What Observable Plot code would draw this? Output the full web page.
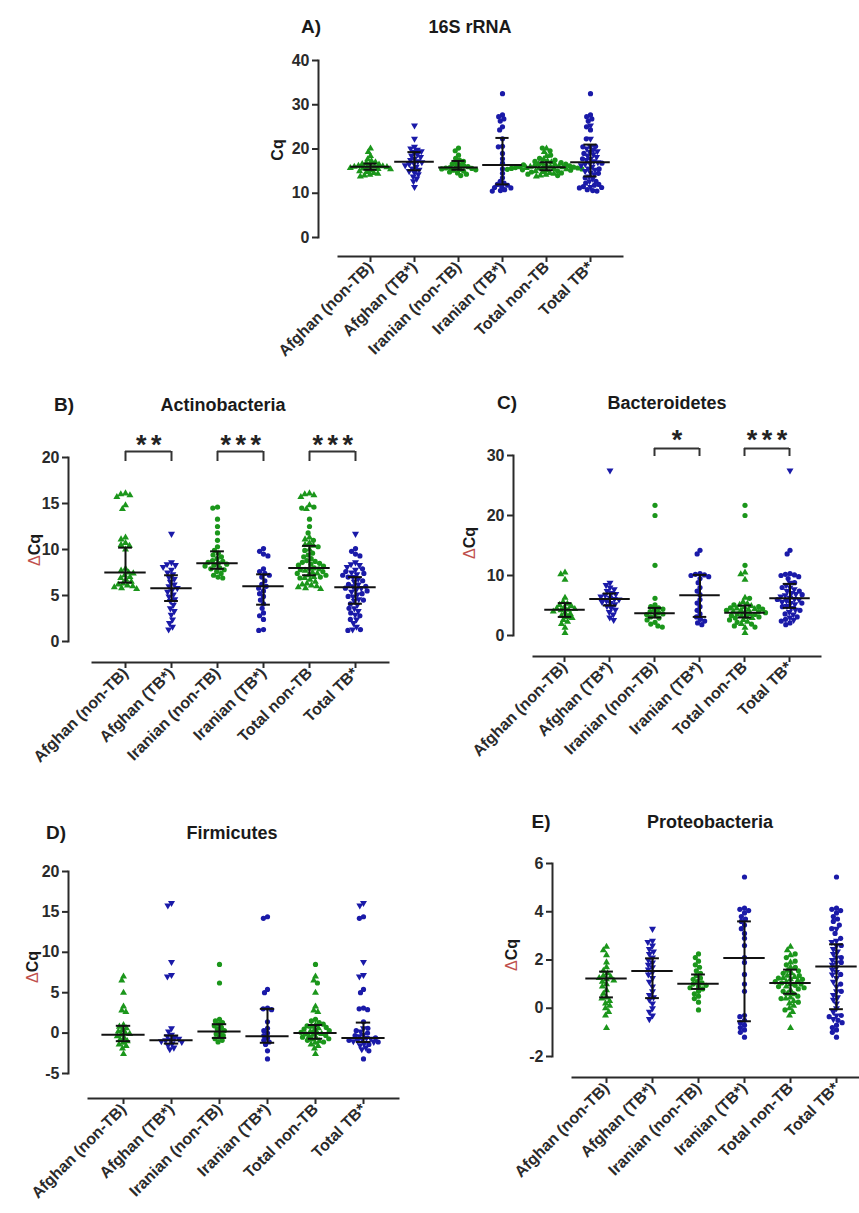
<!DOCTYPE html>
<html><head><meta charset="utf-8">
<script src="https://cdn.jsdelivr.net/npm/d3@7"></script>
<script src="https://cdn.jsdelivr.net/npm/@observablehq/plot@0.6"></script>
<style>
body{margin:0;background:#fff;}
#page{position:relative;width:859px;height:1213px;overflow:hidden;background:#fff;font-family:Arial,'Liberation Sans',sans-serif;}
.ttl{position:absolute;font-weight:bold;color:#1a1a1a;white-space:nowrap;transform:translate(-50%,-50%);}
.lbl{position:absolute;font-weight:bold;color:#1a1a1a;white-space:nowrap;transform:translate(-50%,-50%) rotate(-90deg);}
.axes line, .axes path {stroke-width:2px;}
</style></head><body><div id="page"></div><script>
// ---------- categories ----------
const groups = ["Afghan (non-TB)", "Afghan (TB*)", "Iranian (non-TB)", "Iranian (TB*)", "Total non-TB", "Total TB*"];

// ---------- A) 16S rRNA (Cq) ----------
const rrnaAfghanNonTB = [20.1, 19.3, 18.4, 17.7, 17.3, 17.0, 16.8, 16.6, 16.5, 16.3, 16.2, 16.1, 16.0, 16.0, 15.9, 15.8, 15.7, 15.6, 15.5, 15.4, 15.2, 15.0, 14.8, 14.6, 14.4, 14.2, 14.0, 13.8];
const rrnaAfghanTB = [25.3, 22.3, 20.5, 20.1, 19.8, 19.5, 19.3, 18.8, 18.5, 18.2, 17.8, 17.5, 17.2, 17.0, 16.8, 16.6, 16.3, 16.0, 15.6, 15.3, 15.0, 14.7, 14.3, 13.8, 13.3, 12.7, 11.4];
const rrnaIranianNonTB = [20.2, 19.6, 18.6, 17.9, 17.5, 17.2, 16.9, 16.6, 16.4, 16.2, 16.0, 15.9, 15.8, 15.7, 15.6, 15.5, 15.4, 15.3, 15.2, 15.0, 14.8, 14.6, 14.3, 14.0];
const rrnaIranianTB = [32.5, 27.7, 27.3, 26.8, 26.3, 25.0, 24.3, 22.3, 20.6, 20.5, 19.0, 17.8, 16.8, 15.5, 14.5, 13.5, 12.7, 12.3, 12.0, 11.8, 11.5, 11.3, 11.2, 10.8, 10.6, 10.5];
const rrnaMedian = [16.0, 17.1, 15.8, 16.4, 15.9, 17.0];
const rrnaQ1 = [15.3, 15.2, 15.3, 12.0, 15.2, 13.8];
const rrnaQ3 = [16.7, 19.3, 17.3, 22.5, 17.0, 21.0];
const rrnaTicks = [0, 10, 20, 30, 40];

// ---------- B) Actinobacteria (ΔCq) ----------
const actAfghanNonTB = [16.1, 16.0, 15.9, 15.7, 14.8, 14.4, 11.3, 11.1, 10.7, 10.5, 10.4, 10.0, 7.9, 7.7, 7.5, 7.4, 7.2, 7.0, 6.9, 6.7, 6.5, 6.3, 6.2, 6.1, 6.0, 5.9, 5.8, 5.7];
const actAfghanTB = [11.7, 8.6, 8.4, 8.3, 8.1, 7.8, 7.5, 7.3, 7.0, 6.8, 6.5, 6.2, 6.0, 5.8, 5.6, 5.4, 5.1, 4.9, 4.6, 4.4, 4.0, 3.6, 3.3, 2.9, 2.4, 2.0, 1.6, 1.3];
const actIranianNonTB = [14.6, 14.5, 13.3, 12.5, 11.8, 11.0, 10.3, 9.9, 9.6, 9.4, 9.2, 9.0, 8.8, 8.7, 8.6, 8.5, 8.4, 8.3, 8.2, 8.0, 7.9, 7.8, 7.6, 7.4, 7.2, 7.0, 6.9];
const actIranianTB = [10.1, 9.8, 9.5, 9.3, 7.9, 7.6, 7.4, 7.2, 7.0, 6.6, 6.2, 6.0, 5.8, 5.5, 5.2, 4.9, 4.5, 4.1, 3.6, 3.1, 2.8, 2.4, 1.3, 1.2];
const actMedian = [7.5, 5.8, 8.5, 6.0, 8.0, 5.9];
const actQ1 = [6.4, 4.4, 7.9, 4.0, 7.2, 4.1];
const actQ3 = [10.2, 7.2, 9.8, 7.3, 10.4, 7.0];
const actTicks = [0, 5, 10, 15, 20];
const actBracketFrom = [0, 2, 4];
const actBracketTo = [1, 3, 5];
const actStars = ["**", "***", "***"];

// ---------- C) Bacteroidetes (ΔCq) ----------
const bacAfghanNonTB = [10.5, 10.2, 9.3, 6.3, 5.6, 5.3, 5.1, 4.9, 4.7, 4.5, 4.4, 4.3, 4.2, 4.0, 3.8, 3.6, 3.3, 3.1, 2.9, 2.6, 2.3, 1.9, 1.3, 0.4];
const bacAfghanTB = [27.5, 8.8, 8.4, 8.0, 7.7, 7.4, 7.1, 6.9, 6.7, 6.5, 6.3, 6.1, 6.0, 5.8, 5.6, 5.4, 5.2, 4.9, 4.6, 4.3, 3.9, 3.5, 3.0, 2.6];
const bacIranianNonTB = [21.7, 20.0, 11.7, 6.2, 5.1, 4.8, 4.6, 4.4, 4.2, 4.0, 3.8, 3.6, 3.5, 3.3, 3.1, 2.9, 2.6, 2.2, 1.9, 1.6, 1.4];
const bacIranianTB = [14.2, 13.6, 10.3, 10.2, 10.1, 10.0, 9.8, 9.5, 8.8, 8.0, 7.4, 6.8, 6.0, 5.4, 4.8, 4.2, 3.6, 3.1, 2.7, 2.4, 2.1, 1.8];
const bacMedian = [4.3, 6.1, 3.7, 6.7, 3.8, 6.2];
const bacQ1 = [3.1, 5.0, 3.0, 3.1, 3.0, 4.6];
const bacQ3 = [5.4, 7.0, 4.6, 10.1, 5.0, 8.6];
const bacTicks = [0, 10, 20, 30];
const bacBracketFrom = [2, 4];
const bacBracketTo = [3, 5];
const bacStars = ["*", "***"];

// ---------- D) Firmicutes (ΔCq) ----------
const firAfghanNonTB = [7.0, 6.5, 5.0, 3.3, 2.8, 2.6, 1.0, 0.8, 0.6, 0.4, 0.2, 0.0, -0.1, -0.2, -0.4, -0.6, -0.8, -1.0, -1.2, -1.4, -1.6, -1.9, -2.6];
const firAfghanTB = [16.1, 15.8, 8.8, 7.2, 7.0, 0.6, 0.2, -0.2, -0.4, -0.6, -0.7, -0.8, -0.9, -1.0, -1.1, -1.3, -1.5, -1.8, -2.0];
const firIranianNonTB = [8.5, 6.2, 1.7, 1.5, 1.3, 1.1, 0.9, 0.7, 0.5, 0.3, 0.1, -0.1, -0.3, -0.5, -0.7, -0.9, -1.1];
const firIranianTB = [14.4, 14.2, 5.4, 5.0, 3.1, 3.0, 2.9, 1.4, 0.6, 0.3, 0.0, -0.3, -0.6, -0.9, -1.1, -1.4, -2.2, -3.2];
const firMedian = [-0.2, -0.9, 0.2, -0.4, 0.0, -0.6];
const firQ1 = [-1.0, -1.3, -0.6, -1.2, -0.7, -1.1];
const firQ3 = [0.9, -0.3, 1.1, 3.0, 1.0, 1.3];
const firTicks = [-5, 0, 5, 10, 15, 20];

// ---------- E) Proteobacteria (ΔCq) ----------
const proAfghanNonTB = [2.55, 2.4, 2.2, 1.9, 1.7, 1.55, 1.45, 1.35, 1.3, 1.25, 1.2, 1.15, 1.1, 1.0, 0.9, 0.75, 0.6, 0.45, 0.4, 0.3, 0.2, 0.1, 0.0, -0.15, -0.3, -0.82];
const proAfghanTB = [3.29, 2.8, 2.75, 2.6, 2.45, 2.35, 2.25, 2.1, 2.0, 1.9, 1.8, 1.7, 1.6, 1.5, 1.4, 1.25, 1.1, 0.9, 0.7, 0.55, 0.45, 0.35, 0.2, 0.0, -0.15, -0.3, -0.45];
const proIranianNonTB = [2.25, 2.1, 1.95, 1.8, 1.7, 1.55, 1.45, 1.35, 1.25, 1.2, 1.1, 1.05, 1.0, 0.95, 0.9, 0.85, 0.8, 0.7, 0.6, 0.5, 0.4, 0.25, -0.07];
const proIranianTB = [5.44, 4.15, 4.1, 4.05, 3.95, 3.8, 3.7, 3.6, 3.45, 3.3, 3.1, 2.9, 2.6, 2.1, 1.9, 1.4, 1.0, 0.7, -0.3, -0.35, -0.5, -0.6, -0.7, -0.8, -0.9, -1.0, -1.2];
const proMedian = [1.23, 1.54, 1.02, 2.08, 1.05, 1.73];
const proQ1 = [0.45, 0.42, 0.8, -0.54, 0.6, -0.04];
const proQ3 = [1.52, 2.07, 1.4, 3.6, 1.6, 2.65];
const proTicks = [-2, 0, 2, 4, 6];

// ---------- styling ----------
const GREEN = "#1b961b", BLUE = "#1a1aa8";
const triUp = d3.symbolTriangle;
const triDown = {draw(ctx, size) {
  const y = -Math.sqrt(size / (Math.sqrt(3) * 3));
  ctx.moveTo(0, -y * 2);
  ctx.lineTo(-Math.sqrt(3) * y, y);
  ctx.lineTo(Math.sqrt(3) * y, y);
  ctx.closePath();
}};
const circ = d3.symbolCircle;
const FONT = "Arial, 'Liberation Sans', sans-serif";
const page = document.getElementById("page");

function buildPoints(aN, aT, iN, iT) {
  const rows = [];
  const add = (g, arr, color, shape) => arr.forEach(v => rows.push({group: groups[g], value: v, color, shape}));
  add(0, aN, GREEN, triUp);
  add(1, aT, BLUE, triDown);
  add(2, iN, GREEN, circ);
  add(3, iT, BLUE, circ);
  add(4, aN, GREEN, triUp); add(4, iN, GREEN, circ);
  add(5, aT, BLUE, triDown); add(5, iT, BLUE, circ);
  return rows;
}
function buildStats(med, q1, q3) {
  return groups.map((g, i) => ({group: g, median: med[i], q1: q1[i], q3: q3[i]}));
}
function place(el, left, top) {
  el.style.position = "absolute"; el.style.left = left + "px"; el.style.top = top + "px";
  page.appendChild(el);
  return el;
}
function addText(cls, html, x, y, size) {
  const d = document.createElement("div");
  d.className = cls; d.innerHTML = html; d.style.left = x + "px"; d.style.top = y + "px"; d.style.fontSize = size + "px";
  page.appendChild(d);
}

function panel(cfg, points, stats, brackets) {
  const {domain, yTop, yBot, yAxisX, ticks, xAxisY, xLine, firstTick, step} = cfg;
  const baseStyle = {fontFamily: FONT, fontSize: "16px", fontWeight: "bold", color: "#2a2a2a", overflow: "visible", background: "transparent"};
  const valAt = px => domain[0] + (yBot - px) / (yBot - yTop) * (domain[1] - domain[0]);

  // data layer (beeswarm + median & IQR)
  const M = 14;
  const dLeft = firstTick - step / 2 - M, dTop = yTop - M;
  const dataPlot = Plot.plot({
    width: 6 * step + 2 * M, height: yBot - yTop + 2 * M,
    marginLeft: M, marginRight: M, marginTop: M, marginBottom: M,
    fx: {domain: groups, padding: 0, axis: null, label: null},
    x: {domain: [-1, 1], axis: null},
    y: {domain, axis: null},
    color: {type: "identity"},
    symbol: {type: "identity"},
    style: baseStyle,
    marks: [
      Plot.dot(points, Plot.dodgeX({anchor: "middle", padding: cfg.swarmPad}, {fx: "group", y: "value", r: 2.6, fill: d => d.color, symbol: d => d.shape})),
      Plot.ruleX(stats, {fx: "group", x: 0, y1: "q1", y2: "q3", stroke: "#111", strokeWidth: 2}),
      Plot.ruleY(stats, {fx: "group", y: "q1", x1: -0.3, x2: 0.3, stroke: "#111", strokeWidth: 2}),
      Plot.ruleY(stats, {fx: "group", y: "q3", x1: -0.3, x2: 0.3, stroke: "#111", strokeWidth: 2}),
      Plot.ruleY(stats, {fx: "group", y: "median", x1: -0.9, x2: 0.9, stroke: "#111", strokeWidth: 2})
    ]
  });
  place(dataPlot, dLeft, dTop);

  // y axis layer
  const YL = 50, YM = 10;
  const yPlot = Plot.plot({
    width: YL + 1, height: yBot - yTop + 2 * YM,
    marginLeft: YL, marginRight: 0, marginTop: YM, marginBottom: YM,
    y: {domain, ticks, tickSize: 6, tickPadding: 3, line: true, label: null, tickFormat: d => String(d)},
    style: baseStyle,
    marks: [Plot.tickY(ticks, {y: d => d, stroke: "none"})]
  });
  yPlot.classList.add("axes");
  place(yPlot, yAxisX - YL, yTop - YM);

  // x axis + brackets layer
  const XL = 140, XR = 12, XB = 150;
  const xLeft = xLine[0] - XL, xTop = yTop - 45;
  const xPlot = Plot.plot({
    width: XL + (xLine[1] - xLine[0]) + XR, height: xAxisY - xTop + XB,
    marginLeft: XL, marginRight: XR, marginTop: 5, marginBottom: XB,
    x: {type: "point", domain: groups, padding: 0, range: [firstTick - xLeft, firstTick + 5 * step - xLeft],
        tickRotate: -45, tickSize: 6, tickPadding: 2, line: true, label: null},
    y: {domain, range: [yBot - xTop, yTop - xTop], axis: null},
    style: baseStyle,
    marks: [
      Plot.tickX(groups, {x: d => d, stroke: "none"}),
      ...(brackets ? [
        Plot.ruleY(brackets, {x1: "a", x2: "b", y: valAt(cfg.brTop), stroke: "#333", strokeWidth: 1.8}),
        Plot.ruleX(brackets, {x: "a", y1: valAt(cfg.brTop), y2: valAt(cfg.brBot), stroke: "#333", strokeWidth: 1.8}),
        Plot.ruleX(brackets, {x: "b", y1: valAt(cfg.brTop), y2: valAt(cfg.brBot), stroke: "#333", strokeWidth: 1.8}),
        Plot.text(brackets, {x: "a", dx: step / 2, y: valAt(cfg.starY), dy: 8, text: d => d.stars.split("").join("\u2006"), fontSize: 27, fontWeight: "bold", fill: "#222"})
      ] : [])
    ]
  });
  xPlot.classList.add("axes");
  place(xPlot, xLeft, xTop);

  addText("lbl", cfg.ylabel, cfg.ylabelX, cfg.ylabelY, 16);
  addText("ttl", cfg.letter, cfg.letterX, cfg.titleY, 19);
  addText("ttl", cfg.title, cfg.titleX, cfg.titleY, 18);
}

function bracketRows(from, to, stars) {
  return from.map((f, i) => ({a: groups[f], b: groups[to[i]], stars: stars[i]}));
}
const DCQ = '<span style="color:#c0504d;font-weight:normal">&Delta;</span>Cq';

panel({domain: [0, 40], yTop: 60, yBot: 237, yAxisX: 318, ticks: rrnaTicks, xAxisY: 256, xLine: [338, 622], firstTick: 369, step: 44.4, swarmPad: -1.0,
       ylabel: "Cq", ylabelX: 278, ylabelY: 150, letter: "A)", letterX: 311, title: "16S rRNA", titleX: 470, titleY: 27},
      buildPoints(rrnaAfghanNonTB, rrnaAfghanTB, rrnaIranianNonTB, rrnaIranianTB), buildStats(rrnaMedian, rrnaQ1, rrnaQ3), null);

panel({domain: [0, 20], yTop: 457, yBot: 641, yAxisX: 68, ticks: actTicks, xAxisY: 662, xLine: [92, 388], firstTick: 124, step: 46.4, swarmPad: -0.4,
       ylabel: DCQ, ylabelX: 35, ylabelY: 550, letter: "B)", letterX: 64, title: "Actinobacteria", titleX: 223, titleY: 405,
       brTop: 451, brBot: 461, starY: 437},
      buildPoints(actAfghanNonTB, actAfghanTB, actIranianNonTB, actIranianTB), buildStats(actMedian, actQ1, actQ3),
      bracketRows(actBracketFrom, actBracketTo, actStars));

panel({domain: [0, 30], yTop: 455, yBot: 635, yAxisX: 513, ticks: bacTicks, xAxisY: 656, xLine: [533, 820], firstTick: 564, step: 45, swarmPad: -0.6,
       ylabel: DCQ, ylabelX: 470, ylabelY: 543, letter: "C)", letterX: 507, title: "Bacteroidetes", titleX: 667, titleY: 403,
       brTop: 448, brBot: 456, starY: 432},
      buildPoints(bacAfghanNonTB, bacAfghanTB, bacIranianNonTB, bacIranianTB), buildStats(bacMedian, bacQ1, bacQ3),
      bracketRows(bacBracketFrom, bacBracketTo, bacStars));

panel({domain: [-5, 20], yTop: 871, yBot: 1073, yAxisX: 68, ticks: firTicks, xAxisY: 1098, xLine: [88, 398], firstTick: 121, step: 48.6, swarmPad: -0.8,
       ylabel: DCQ, ylabelX: 33, ylabelY: 967, letter: "D)", letterX: 56, title: "Firmicutes", titleX: 232, titleY: 833},
      buildPoints(firAfghanNonTB, firAfghanTB, firIranianNonTB, firIranianTB), buildStats(firMedian, firQ1, firQ3), null);

panel({domain: [-2, 6], yTop: 863, yBot: 1056, yAxisX: 552, ticks: proTicks, xAxisY: 1077, xLine: [572, 870], firstTick: 604, step: 46.8, swarmPad: -0.4,
       ylabel: DCQ, ylabelX: 512, ylabelY: 955, letter: "E)", letterX: 541, title: "Proteobacteria", titleX: 710, titleY: 822},
      buildPoints(proAfghanNonTB, proAfghanTB, proIranianNonTB, proIranianTB), buildStats(proMedian, proQ1, proQ3), null);
</script></body></html>
